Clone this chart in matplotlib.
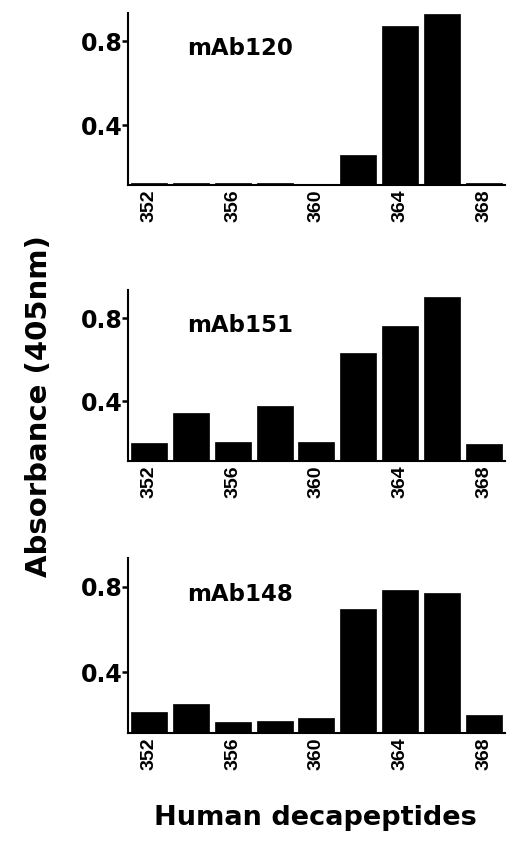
import matplotlib
matplotlib.use("Agg")
import matplotlib.pyplot as plt

positions = [352, 354, 356, 358, 360, 362, 364, 366, 368]
tick_positions = [352, 356, 360, 364, 368]
tick_labels = ["352", "356", "360", "364", "368"]
y_ticks = [0.4, 0.8]
y_tick_labels = ["0.4", "0.8"]

panel_names = ["mAb120", "mAb151", "mAb148"]
mab120 = [0.125, 0.126, 0.125, 0.126, 0.117, 0.26, 0.871, 0.932, 0.125]
mab151 = [0.202, 0.344, 0.205, 0.377, 0.205, 0.634, 0.764, 0.899, 0.197]
mab148 = [0.212, 0.252, 0.168, 0.170, 0.186, 0.697, 0.784, 0.773, 0.200]
series = [mab120, mab151, mab148]

fig = plt.figure(figsize=(5.08, 8.41), dpi=100)
rects = [
    [0.252, 0.780, 0.742, 0.2045],
    [0.252, 0.452, 0.742, 0.2033],
    [0.252, 0.1284, 0.742, 0.208],
]

for rect, vals, name in zip(rects, series, panel_names):
    ax = fig.add_axes(rect)
    ax.bar(positions, vals, width=1.72, color="black", edgecolor="black", linewidth=0.5)
    ax.set_xlim(351, 369)
    ax.set_ylim(0.115, 0.935)
    for s in ["top", "right"]:
        ax.spines[s].set_visible(False)
    for s in ["left", "bottom"]:
        ax.spines[s].set_linewidth(1.5)
    ax.set_yticks(y_ticks)
    ax.set_yticklabels(y_tick_labels, fontsize=17, fontweight="heavy", family="DejaVu Sans")
    ax.tick_params(axis="y", direction="out", length=4, width=1.8, pad=0)
    ax.set_xticks(tick_positions)
    ax.set_xticklabels(tick_labels, rotation=90, fontsize=14, fontweight="bold",
                       family="Liberation Sans")
    ax.tick_params(axis="x", length=0, pad=3)
    ax.text(353.8, 0.765, name, fontsize=16.5, fontweight="heavy", family="DejaVu Sans",
            ha="left", va="center")

fig.text(0.077, 0.517, "Absorbance (405nm)", rotation=90, fontsize=21, fontweight="heavy",
         family="DejaVu Sans", ha="center", va="center")
fig.text(0.62, 0.027, "Human decapeptides", fontsize=19.5, fontweight="heavy",
         family="DejaVu Sans", ha="center", va="center")

fig.savefig("out.png", dpi=100)
